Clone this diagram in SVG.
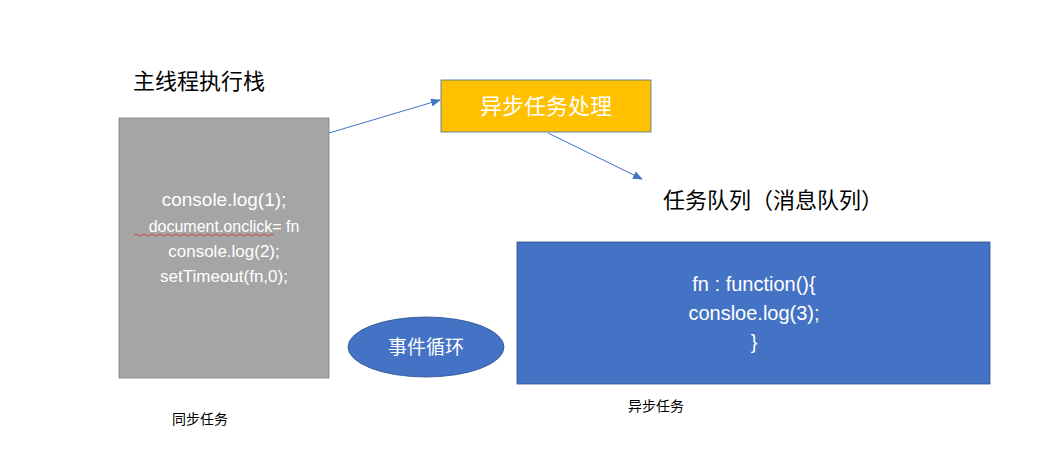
<svg xmlns="http://www.w3.org/2000/svg" width="1041" height="456" viewBox="0 0 1041 456">
<defs>
<style>
text{font-family:"Liberation Sans","Noto Sans CJK SC",sans-serif}
.w{fill:#fff;text-anchor:middle}
.k{fill:#000}
.c{stroke:#4472C4;stroke-width:1;fill:none}
</style>
<marker id="a" markerWidth="10" markerHeight="8" refX="9" refY="4" orient="auto" markerUnits="userSpaceOnUse"><path d="M0,0L10,4L0,8z" fill="#4472C4"/></marker>
</defs>
<rect width="1041" height="456" fill="#fff"/>
<g id="stack">
<rect x="119" y="118" width="210" height="260" fill="#A5A5A5" stroke="#7f7f7f" stroke-width="0.8"/>
<text class="w" x="224" y="206" font-size="19">console.log(1);</text>
<text class="w" x="224" y="232" font-size="16">document.onclick= fn</text>
<path d="M134,235 q2,-2 4,0 t4,0 t4,0 t4,0 t4,0 t4,0 t4,0 t4,0 t4,0 t4,0 t4,0 t4,0 t4,0 t4,0 t4,0 t4,0 t4,0 t4,0 t4,0 t4,0 t4,0 t4,0 t4,0 t4,0 t4,0 t4,0 t4,0 t4,0 t4,0 t4,0 t4,0 t4,0 t4,0 t4,0 t4,0" stroke="#e03030" stroke-width="0.8" fill="none"/>
<text class="w" x="224" y="257" font-size="17">console.log(2);</text>
<text class="w" x="224" y="282" font-size="17">setTimeout(fn,0);</text>
</g>
<g id="stack-title"><text class="k" x="133" y="89" font-size="22">主线程执行栈</text></g>
<g id="async">
<rect x="441" y="80" width="210" height="52" fill="#FFC000" stroke="#41719C" stroke-width="0.8"/>
<text class="w" x="546" y="114" font-size="22">异步任务处理</text>
</g>
<g id="queue-title"><text class="k" x="663" y="208" font-size="22">任务队列（消息队列）</text></g>
<g id="queue">
<rect x="517" y="242" width="473" height="142" fill="#4472C4" stroke="#2F528F" stroke-width="0.8"/>
<text class="w" x="754" y="291" font-size="20">fn : function(){</text>
<text class="w" x="754" y="320" font-size="20">consloe.log(3);</text>
<text class="w" x="754" y="349" font-size="20">}</text>
</g>
<g id="loop">
<ellipse cx="426" cy="347" rx="78" ry="30" fill="#4472C4" stroke="#2F528F" stroke-width="0.8"/>
<text class="w" x="426" y="354" font-size="19">事件循环</text>
</g>
<g id="label-sync"><text class="k" x="172" y="424" font-size="14">同步任务</text></g>
<g id="label-async"><text class="k" x="628" y="411" font-size="14">异步任务</text></g>
<g id="connectors">
<line class="c" x1="329" y1="133" x2="440" y2="100" marker-end="url(#a)"/>
<line class="c" x1="548" y1="133" x2="642" y2="179" marker-end="url(#a)"/>
</g>
</svg>
